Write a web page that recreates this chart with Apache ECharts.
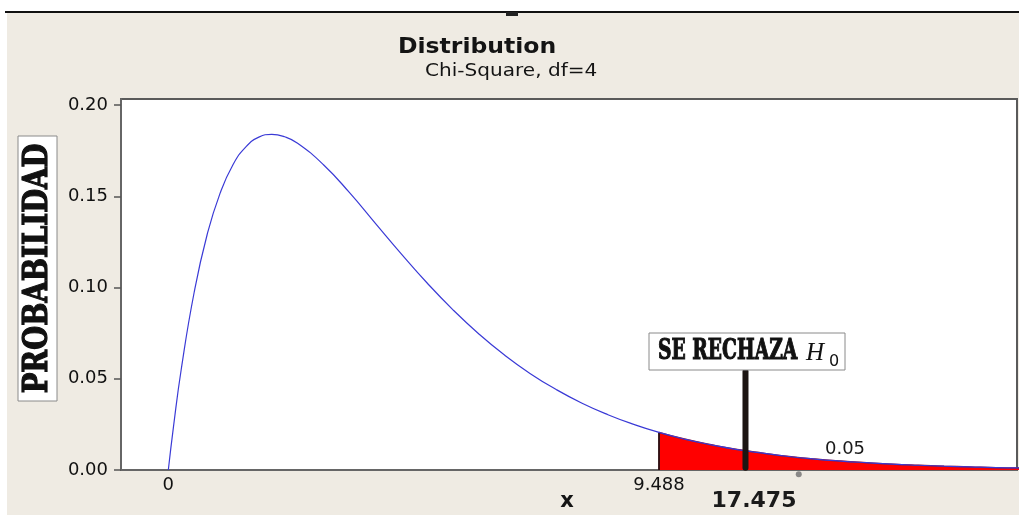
<!DOCTYPE html>
<html>
<head>
<meta charset="utf-8">
<script src="https://cdn.jsdelivr.net/npm/echarts@6/dist/echarts.min.js"></script>
<style>
  html, body { margin: 0; padding: 0; background: #ffffff; }
  #wrap { position: relative; width: 1019px; height: 516px; overflow: hidden; background: #ffffff; }
  #bg { position: absolute; left: 7px; top: 13px; width: 1012px; height: 502px; background: #efebe3; }
  #topline { position: absolute; left: 5px; top: 11px; width: 1014px; height: 2px; background: #111; }
  #dash { position: absolute; left: 506px; top: 12px; width: 12px; height: 4px; background: #222; }
  #chart { position: absolute; left: 0; top: 0; width: 1019px; height: 516px; }
</style>
</head>
<body>
<div id="wrap">
  <div id="bg"></div>
  <div id="topline"></div>
  <div id="dash"></div>
  <div id="chart"></div>
</div>
<script>
// ---- Data ----
// Chi-square (df=4) density curve, sampled points
var curveX = [0, 0.1, 0.25, 0.5, 0.75, 1, 1.25, 1.5, 1.75, 2, 2.25, 2.5, 3, 3.5, 4, 4.5, 5, 5.5, 6, 6.5, 7, 7.5, 8, 8.5, 9, 9.488, 10, 10.5, 11, 11.5, 12, 12.5, 13, 13.5, 14, 14.5, 15, 15.5, 16, 16.5];
var curveY = [0, 0.0238, 0.0552, 0.0974, 0.1289, 0.1516, 0.1673, 0.1771, 0.1824, 0.1839, 0.1826, 0.1791, 0.1673, 0.1521, 0.1353, 0.1186, 0.1026, 0.0879, 0.0747, 0.0630, 0.0528, 0.0441, 0.0366, 0.0303, 0.0250, 0.0206, 0.0168, 0.0138, 0.0112, 0.0092, 0.0074, 0.0060, 0.0049, 0.0040, 0.0032, 0.0026, 0.0021, 0.0017, 0.0013, 0.0011];
// Rejection region (upper tail, area 0.05)
var criticalValue = 9.488;
var tailArea = "0.05";
// Test statistic marker
var statLabel = "17.475";
var statBarX = 11.16;
var statBarY = [0.0012, 0.054];
var statDot = [12.19, -0.0023];
// Axis ticks
var xTickValues = [0, 9.488];
var yTickValues = [0, 0.05, 0.10, 0.15, 0.20];
// Texts
var titleText = "Distribution";
var subtitleText = "Chi-Square, df=4";
var yAxisTitle = "PROBABILIDAD";
var xAxisTitle = "x";
var rejectText = "SE RECHAZA";

// ---- Build series data ----
var curveData = curveX.map(function (x, i) { return [x, curveY[i]]; });
var tailData = [[criticalValue, 0]];
curveX.forEach(function (x, i) { if (x >= criticalValue) tailData.push([x, curveY[i]]); });
var critY = curveY[curveX.indexOf(criticalValue)];

var chart = echarts.init(document.getElementById('chart'), null, { renderer: 'canvas' });
var tickFont = 'DejaVu Sans';

var option = {
  backgroundColor: 'transparent',
  animation: false,
  grid: {
    left: 121, right: 2, top: 99, bottom: 46,
    show: true, backgroundColor: '#ffffff', borderColor: '#5a5a5a', borderWidth: 2
  },
  xAxis: {
    type: 'value', min: -0.915, max: 16.41,
    axisLine: { show: true, onZero: false, lineStyle: { color: '#666', width: 2 } },
    axisTick: { show: false },
    splitLine: { show: false },
    axisLabel: {
      customValues: xTickValues,
      formatter: function (v) { return String(v); },
      margin: 6, color: '#111', fontFamily: tickFont, fontSize: 18
    }
  },
  yAxis: {
    type: 'value', min: 0, max: 0.2033,
    axisLine: { show: true, onZero: false, lineStyle: { color: '#666', width: 2 } },
    axisTick: { show: true, customValues: yTickValues, length: 7, lineStyle: { color: '#555', width: 1.5 } },
    splitLine: { show: false },
    axisLabel: {
      customValues: yTickValues,
      formatter: function (v) { return v.toFixed(2); },
      margin: 13, color: '#111', fontFamily: tickFont, fontSize: 18
    }
  },
  series: [
    {
      type: 'line', data: tailData, symbol: 'none', smooth: true,
      lineStyle: { width: 1.5, color: '#9b1020' },
      areaStyle: { color: '#ff0000', opacity: 1 }, z: 2
    },
    {
      type: 'line', data: [[criticalValue, 0], [criticalValue, critY]], symbol: 'none',
      lineStyle: { width: 1.5, color: '#111' }, z: 3
    },
    {
      type: 'line', data: curveData, symbol: 'none', smooth: true,
      lineStyle: { width: 1.2, color: '#3a3ad6' }, z: 4
    },
    {
      type: 'line', data: [[statBarX, statBarY[0]], [statBarX, statBarY[1]]], symbol: 'none',
      lineStyle: { width: 6, color: '#1c1512', cap: 'round' }, z: 6
    },
    {
      type: 'scatter', data: [statDot], symbol: 'circle', symbolSize: 6,
      itemStyle: { color: '#6f6f6f' }, clip: false, z: 6
    }
  ],
  graphic: [
    { type: 'text', x: 398, y: 48, scaleX: 1.12, style: { text: titleText, font: 'bold 21px "DejaVu Sans"', fill: '#141414', verticalAlign: 'middle' } },
    { type: 'text', x: 425, y: 72, scaleX: 1.18, style: { text: subtitleText, font: '17px "DejaVu Sans"', fill: '#141414', verticalAlign: 'middle' } },
    { type: 'text', x: 567, y: 502, style: { text: xAxisTitle, font: 'bold 21px "DejaVu Sans"', fill: '#141414', align: 'center', verticalAlign: 'middle' } },
    { type: 'text', x: 754, y: 501, style: { text: statLabel, font: 'bold 22px "DejaVu Sans"', fill: '#1a1a1a', align: 'center', verticalAlign: 'middle' } },
    { type: 'text', x: 845, y: 449, style: { text: tailArea, font: '18px "DejaVu Sans"', fill: '#1a1a1a', align: 'center', verticalAlign: 'middle' } },
    // rejection annotation box
    { type: 'rect', shape: { x: 649, y: 333, width: 196, height: 37 }, style: { fill: '#fff', stroke: '#8a8a8a', lineWidth: 1 }, z: 10 },
    { type: 'text', x: 658, y: 352, scaleX: 0.77, z: 11,
      style: { text: rejectText, font: 'bold 27px "DejaVu Serif Condensed", "DejaVu Serif"', fill: '#111', stroke: '#111', lineWidth: 1, verticalAlign: 'middle' } },
    { type: 'text', x: 806, y: 353, z: 11,
      style: { text: 'H', font: 'italic 25px "Liberation Serif"', fill: '#111', verticalAlign: 'middle' } },
    { type: 'text', x: 829, y: 362, z: 11,
      style: { text: '0', font: '16px "DejaVu Sans"', fill: '#111', verticalAlign: 'middle' } },
    // y axis title box (rotated)
    { type: 'group', x: 37.5, y: 268.5, rotation: Math.PI / 2, z: 10,
      children: [
        { type: 'rect', shape: { x: -132.5, y: -19.5, width: 265, height: 39 }, style: { fill: '#fff', stroke: '#8a8a8a', lineWidth: 1 } },
        { type: 'text', x: 0, y: 1, scaleX: 0.9, style: { text: yAxisTitle, font: 'bold 34px "DejaVu Serif Condensed", "DejaVu Serif"', fill: '#111', stroke: '#111', lineWidth: 1.2, align: 'center', verticalAlign: 'middle' } }
      ]
    }
  ]
};
chart.setOption(option);
</script>
</body>
</html>
